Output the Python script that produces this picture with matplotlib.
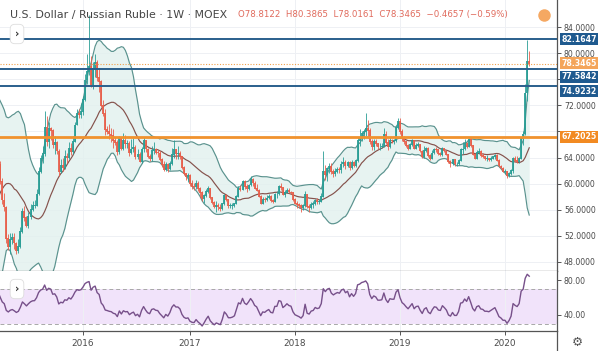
import numpy as np
import pandas as pd
import matplotlib
matplotlib.use('Agg')
import matplotlib.pyplot as plt

# weekly USD/RUB closes (2014 tail only feeds the indicators)
close_2014 = [39.6, 40.3, 40.8, 41.9, 43.2, 46.0, 46.9, 45.0, 49.3, 53.0, 58.0, 60.5, 53.5]
close_2015 = [59.0, 62.3, 65.4, 64.0, 68.9, 67.3, 65.0, 62.2, 61.2, 61.2, 63.0, 60.3, 57.5,
              56.4, 51.6, 50.3, 51.4, 51.8, 50.9, 49.8, 50.4, 52.6, 55.8, 54.8, 53.6, 54.9,
              56.0, 56.6, 56.7, 58.4, 61.9, 63.9, 64.6, 68.6, 66.5, 68.4, 68.1, 66.0, 66.3,
              65.0, 61.8, 62.8, 62.5, 64.2, 64.0, 65.4, 64.9, 66.5, 69.0, 70.8, 70.6, 71.0]
close_2016 = [72.9, 75.9, 77.2, 77.9, 75.2, 77.6, 78.6, 76.3, 75.6, 72.0, 70.8, 68.3, 68.0,
              67.6, 67.4, 66.6, 66.3, 64.9, 66.9, 65.4, 66.6, 66.1, 66.2, 64.8, 65.3, 65.6,
              64.1, 64.5, 63.4, 65.3, 66.6, 65.3, 64.2, 63.8, 65.1, 65.3, 64.8, 64.7, 63.7,
              62.9, 62.1, 62.9, 62.3, 63.1, 64.5, 65.2, 64.6, 64.6, 64.1, 62.5, 61.5, 61.1, 61.2]
close_2017 = [60.0, 59.6, 59.5, 60.0, 59.2, 58.6, 57.7, 58.2, 58.8, 59.3, 57.9, 57.1, 56.4,
              56.7, 56.4, 56.1, 56.9, 58.2, 57.6, 56.6, 56.6, 56.7, 56.9, 58.0, 59.3, 59.1,
              60.4, 59.5, 59.2, 59.8, 60.6, 60.1, 59.3, 59.0, 58.0, 56.9, 57.6, 57.5, 57.8,
              58.0, 57.4, 57.3, 58.4, 58.4, 59.5, 59.4, 58.3, 58.6, 59.0, 58.7, 58.6, 57.6]
close_2018 = [57.0, 56.8, 56.6, 56.3, 56.6, 58.3, 56.5, 56.3, 56.8, 56.9, 57.4, 57.2, 57.3,
              58.0, 61.9, 61.4, 62.3, 62.6, 61.8, 61.5, 61.9, 62.2, 62.1, 63.0, 63.3, 62.8,
              63.2, 62.4, 63.2, 62.8, 63.5, 66.6, 66.9, 67.7, 68.0, 68.5, 68.1, 66.4, 65.6,
              66.4, 66.2, 65.6, 65.6, 65.7, 67.5, 66.3, 65.7, 66.7, 66.6, 66.6, 68.6, 69.5]
close_2019 = [68.0, 66.9, 66.5, 65.9, 65.4, 66.0, 66.6, 65.4, 65.9, 66.0, 65.0, 64.2, 65.1,
              65.4, 64.3, 63.9, 64.7, 65.3, 65.2, 64.6, 64.5, 65.4, 65.0, 64.5, 63.4, 63.1,
              63.7, 63.0, 63.0, 63.6, 65.2, 65.3, 66.1, 65.7, 66.8, 65.8, 64.5, 63.9, 64.8,
              65.0, 64.3, 64.2, 63.8, 63.8, 63.7, 63.9, 64.1, 64.3, 63.6, 62.7, 62.4, 61.9]
close_2020 = [61.9, 61.2, 61.5, 62.0, 63.9, 63.6, 63.4, 63.9, 66.9, 67.6, 73.9, 78.8122, 78.3465]

high_2015 = [60.8, 63.2, 66.8, 66.4, 69.7, 70.1, 68.0, 65.3, 62.9, 62.9, 63.8, 63.4, 60.9,
             58.5, 56.6, 52.3, 52.4, 52.5, 52.4, 51.0, 51.5, 53.4, 56.3, 56.5, 55.1, 55.6,
             56.9, 57.3, 57.5, 59.1, 62.5, 64.4, 65.8, 71.2, 70.4, 69.4, 68.7, 68.3, 67.3,
             66.5, 65.3, 63.8, 63.9, 65.2, 64.7, 66.4, 66.2, 67.3, 69.5, 71.4, 71.5, 72.4]
high_2016 = [73.4, 76.8, 79.8, 85.9, 79.5, 78.6, 79.9, 78.9, 77.8, 75.9, 72.8, 71.5, 68.9,
             69.2, 68.5, 68.3, 67.1, 66.7, 67.3, 67.2, 67.8, 67.5, 66.7, 66.5, 66.8, 67.0,
             65.9, 65.3, 64.9, 65.6, 67.1, 66.7, 65.5, 64.6, 65.8, 66.4, 65.5, 65.2, 65.0,
             63.9, 63.4, 63.3, 63.2, 63.5, 65.4, 66.7, 65.3, 65.7, 65.0, 64.3, 62.7, 61.6, 61.7]
high_2017 = [61.5, 60.6, 60.1, 60.5, 60.4, 59.5, 58.8, 58.4, 59.2, 59.6, 59.4, 57.9, 57.4,
             57.3, 57.1, 56.8, 57.1, 58.4, 58.4, 57.7, 57.0, 57.1, 57.1, 58.3, 59.6, 59.8,
             60.5, 60.6, 59.9, 60.0, 61.1, 60.8, 60.4, 59.9, 59.2, 58.2, 58.0, 58.0, 58.3,
             58.4, 58.2, 57.7, 58.5, 58.8, 59.8, 60.1, 59.5, 59.0, 59.4, 59.4, 58.9, 58.7]
high_2018 = [57.8, 57.4, 57.0, 56.9, 56.9, 58.9, 58.4, 56.8, 57.2, 57.4, 57.6, 57.8, 57.7,
             58.5, 65.0, 62.9, 62.5, 63.2, 63.2, 62.2, 62.4, 62.6, 62.5, 63.4, 64.1, 63.6,
             63.5, 63.4, 63.6, 63.5, 63.7, 67.1, 68.3, 68.1, 68.4, 70.8, 69.8, 68.5, 66.8,
             66.8, 66.8, 66.0, 66.2, 66.2, 68.5, 68.0, 66.8, 67.1, 66.9, 66.9, 68.8, 70.1]
high_2019 = [70.0, 68.4, 67.3, 66.6, 66.0, 66.3, 66.8, 66.6, 66.2, 66.4, 66.1, 65.2, 65.7,
             65.6, 65.6, 64.5, 65.1, 65.5, 65.6, 65.3, 64.9, 65.6, 65.5, 65.1, 64.6, 63.6,
             63.8, 63.8, 63.3, 63.8, 65.5, 66.4, 66.8, 66.4, 67.0, 66.9, 65.9, 64.7, 65.1,
             65.5, 65.2, 64.7, 64.2, 64.4, 64.0, 64.2, 64.3, 64.5, 64.5, 63.7, 62.9, 62.5]
high_2020 = [62.3, 62.0, 61.8, 62.3, 64.1, 64.2, 64.2, 64.1, 67.1, 68.0, 75.2, 82.0, 80.3865]

low_2015 = [53.1, 58.3, 61.9, 63.2, 63.6, 66.6, 64.5, 61.8, 60.6, 60.1, 60.3, 59.9, 56.8,
            55.8, 50.9, 49.8, 49.2, 50.7, 49.9, 49.2, 49.3, 50.1, 52.5, 54.3, 53.4, 53.2,
            54.6, 55.8, 56.2, 56.5, 58.2, 61.6, 63.1, 64.3, 65.8, 65.4, 66.7, 65.5, 64.6,
            64.5, 61.2, 61.6, 61.9, 62.2, 63.2, 63.7, 64.4, 64.6, 66.4, 69.0, 70.0, 70.1]
low_2016 = [70.5, 72.6, 75.2, 76.6, 74.8, 74.5, 76.3, 75.8, 74.0, 71.8, 70.3, 67.4, 67.6,
            66.8, 66.4, 65.4, 65.9, 64.4, 64.5, 65.1, 65.2, 65.4, 65.5, 64.3, 64.5, 64.9,
            63.7, 63.8, 63.3, 63.1, 64.9, 64.9, 64.0, 63.4, 63.5, 64.5, 64.5, 64.1, 63.4,
            62.6, 61.9, 61.9, 61.8, 62.1, 62.9, 63.9, 63.8, 63.7, 63.8, 62.3, 61.3, 60.6, 60.3]
low_2017 = [59.7, 59.2, 59.0, 59.2, 58.9, 58.0, 57.4, 57.1, 57.9, 58.6, 57.7, 56.8, 56.2,
            55.7, 56.0, 55.8, 56.0, 56.7, 57.3, 56.3, 56.2, 56.1, 56.4, 56.8, 57.9, 58.8,
            59.0, 59.2, 58.7, 59.0, 59.6, 59.6, 59.2, 58.8, 57.9, 56.8, 56.9, 57.2, 57.3,
            57.6, 57.2, 57.1, 57.2, 57.8, 58.3, 59.0, 58.2, 58.0, 58.5, 58.6, 58.4, 57.4]
low_2018 = [56.9, 56.3, 56.2, 55.6, 56.0, 56.4, 56.2, 55.6, 56.1, 56.3, 56.7, 56.9, 56.8,
            57.2, 58.0, 60.6, 60.4, 61.6, 61.5, 61.0, 61.1, 61.6, 61.6, 61.7, 62.6, 62.3,
            62.6, 62.1, 62.2, 62.5, 62.5, 63.3, 65.7, 66.6, 66.8, 67.3, 67.0, 66.1, 65.1,
            65.2, 65.7, 65.3, 65.2, 65.4, 65.6, 66.0, 65.1, 65.5, 66.2, 66.1, 66.4, 68.4]
low_2019 = [67.6, 66.6, 66.1, 65.6, 65.2, 65.3, 65.8, 65.3, 65.3, 65.6, 64.9, 64.0, 64.0,
            64.9, 64.1, 63.6, 63.8, 64.6, 64.8, 64.4, 64.3, 64.3, 64.8, 64.4, 63.2, 62.5,
            62.8, 62.7, 62.7, 62.8, 63.4, 64.6, 65.1, 65.4, 65.6, 65.6, 64.4, 63.8, 63.8,
            64.6, 64.1, 63.9, 63.6, 63.5, 63.4, 63.5, 63.8, 63.8, 63.5, 62.6, 62.3, 61.8]
low_2020 = [61.4, 60.9, 61.0, 61.3, 61.7, 63.3, 63.2, 63.1, 63.8, 65.9, 67.5, 72.6, 78.0161]

levels_blue = [82.1647, 77.5842, 74.9232]
label_shift_pt = [0.0, -5.8, -3.6]   # scale labels pushed apart like the platform does
level_orange = 67.2025
last_price = 78.3465
years = ['2016', '2017', '2018', '2019', '2020']
price_ticks = [48, 52, 56, 60, 64, 68, 72, 76, 80, 84]
rsi_ticks = [40, 80]

closes = np.array(close_2014 + close_2015 + close_2016 + close_2017 + close_2018
                  + close_2019 + close_2020)
dates = pd.date_range('2014-10-03', periods=len(closes), freq='W-FRI')
opens = np.r_[closes[0], closes[:-1]]
n0 = len(close_2014)
highs = np.array(high_2015 + high_2016 + high_2017 + high_2018 + high_2019 + high_2020)
lows = np.array(low_2015 + low_2016 + low_2017 + low_2018 + low_2019 + low_2020)
idx = np.arange(len(closes))

# indicators
s = pd.Series(closes)
mid = s.rolling(20).mean()
sd = s.rolling(20).std(ddof=0)
upper, lower = mid + 2 * sd, mid - 2 * sd
delta = s.diff()
g = delta.clip(lower=0).ewm(alpha=1 / 14, adjust=False).mean()
l = (-delta.clip(upper=0)).ewm(alpha=1 / 14, adjust=False).mean()
rsi = 100 - 100 / (1 + g / l)

year_idx = [int(np.argmax(dates.year == int(y))) for y in years]
px_per_bar = (505 - 83) / (year_idx[-1] - year_idx[0])
x0 = year_idx[0] - 83 / px_per_bar
x1 = year_idx[0] + (557 - 83) / px_per_bar

fig = plt.figure(figsize=(6, 3.51), dpi=100)
ax = fig.add_axes([0, 80 / 351, 557 / 600, 271 / 351])
ax_r = fig.add_axes([0, 20 / 351, 557 / 600, 60 / 351], sharex=ax)

grid_c = '#eef0f4'
axis_c = '#555555'
for a in (ax, ax_r):
    for sp in ('top', 'left'):
        a.spines[sp].set_visible(False)
    for sp in ('right', 'bottom'):
        a.spines[sp].set_color(axis_c)
        a.spines[sp].set_linewidth(0.9)
    a.yaxis.tick_right()
    a.tick_params(axis='y', length=3, width=0.7, color=axis_c, labelsize=5.6,
                  labelcolor='#4a4a4a', pad=2)
    a.set_xticks(year_idx)
    a.grid(True, color=grid_c, lw=0.7)
    a.set_axisbelow(True)

# bollinger bands
vis = idx >= n0
ax.fill_between(idx[vis], lower[vis], upper[vis], color='#e2f1ee', alpha=0.8, lw=0, zorder=1)
ax.plot(idx[vis], upper[vis], color='#5a928e', lw=0.85, zorder=2)
ax.plot(idx[vis], lower[vis], color='#5a928e', lw=0.85, zorder=2)
ax.plot(idx[vis], mid[vis], color='#85524c', lw=0.85, zorder=2)

# candles
o, c = opens[n0:], closes[n0:]
hi = np.maximum(highs, np.maximum(o, c))
lo = np.minimum(lows, np.minimum(o, c))
xi = idx[n0:]
up = c >= o
cols = np.where(up, '#2a9d95', '#e85f4b')
ax.vlines(xi, lo, hi, colors=cols, lw=0.6, zorder=3)
body_top = np.maximum(o, c) + 0.06
body_bot = np.minimum(o, c) - 0.06
ax.vlines(xi, body_bot, body_top, colors=cols, lw=1.3, zorder=3, capstyle='butt')

# horizontal levels
for lv in levels_blue:
    ax.axhline(lv, color='#2a5f8c', lw=1.4, zorder=4)
ax.axhline(level_orange, color='#f0922e', lw=2.0, zorder=4)
ax.axhline(last_price, color='#f0a04a', lw=0.8, ls=(0, (1, 1.5)), zorder=4)

ax.set_ylim(46.6, 88.15)
ax.set_xlim(x0, x1)
ax.set_yticks(price_ticks)
ax.set_yticklabels(['' if v in (68, 76) else f'{v:.4f}' for v in price_ticks])
ax.tick_params(axis='x', length=0, labelbottom=False)

box_kw = dict(boxstyle='square,pad=0.2', lw=0)
for lv, dy in zip(levels_blue, label_shift_pt):
    ax.annotate(f'{lv:.4f}', xy=(1, lv), xycoords=('axes fraction', 'data'),
                xytext=(3, dy), textcoords='offset points', va='center', ha='left',
                fontsize=5.6, color='white', fontweight='bold',
                bbox=dict(fc='#1f5a8f', **box_kw), zorder=6, annotation_clip=False)
ax.annotate(f'{level_orange:.4f}', xy=(1, level_orange), xycoords=('axes fraction', 'data'),
            xytext=(3, 0), textcoords='offset points', va='center', ha='left',
            fontsize=5.6, color='white', fontweight='bold',
            bbox=dict(fc='#f28a22', **box_kw), zorder=6, annotation_clip=False)
ax.annotate(f'{last_price:.4f}', xy=(1, last_price), xycoords=('axes fraction', 'data'),
            xytext=(3, 0.6), textcoords='offset points', va='center', ha='left',
            fontsize=5.6, color='white', fontweight='bold',
            bbox=dict(fc='#f4a55a', **box_kw), zorder=7, annotation_clip=False)

# RSI pane
ax_r.axhspan(30, 70, color='#f1e3fa', lw=0, zorder=0)
ax_r.axhline(70, color='#a8a8a8', lw=0.7, ls=(0, (4, 3)))
ax_r.axhline(30, color='#a8a8a8', lw=0.7, ls=(0, (4, 3)))
ax_r.plot(idx[vis], rsi[vis], color='#77508a', lw=1.0, zorder=3)
ax_r.set_ylim(21.7, 90.3)
ax_r.set_yticks(rsi_ticks)
ax_r.set_yticklabels([f'{v:.2f}' for v in rsi_ticks])
ax_r.set_xticklabels(years)
ax_r.tick_params(axis='x', length=3, width=0.7, color=axis_c, labelsize=6.4,
                 labelcolor='#4a4a4a', pad=3)
ax_r.yaxis.grid(False)

# right scale separator down to the bottom
fig.add_artist(plt.Line2D([557 / 600, 557 / 600], [0, 20 / 351], color=axis_c, lw=0.9))

# header legend
fig.text(10 / 600, 1 - 15 / 351, 'U.S. Dollar / Russian Ruble · 1W · MOEX',
         fontsize=7.9, color='#454545', va='center', ha='left')
fig.text(238 / 600, 1 - 15 / 351,
         'O78.8122  H80.3865  L78.0161  C78.3465  \u22120.4657 (\u22120.59%)',
         fontsize=6.2, color='#e06a5c', va='center', ha='left')
ax.plot([544 / 600], [1 - 15 / 351], 'o', ms=9, color='#f5a862', mec='none',
        transform=fig.transFigure, clip_on=False, zorder=7)

for yy in (1 - 34 / 351, 1 - 289 / 351):
    fig.text(17 / 600, yy, '\u203a', fontsize=7.5, color='#333333', va='center', ha='center',
             fontweight='bold',
             bbox=dict(boxstyle='round,pad=0.45', fc='white', ec='#dddddd', lw=0.6), zorder=8)

fig.text(577 / 600, 9 / 351, '\u2699', fontsize=9, color='#555555', va='center', ha='center')

fig.savefig('out.png', dpi=100)
